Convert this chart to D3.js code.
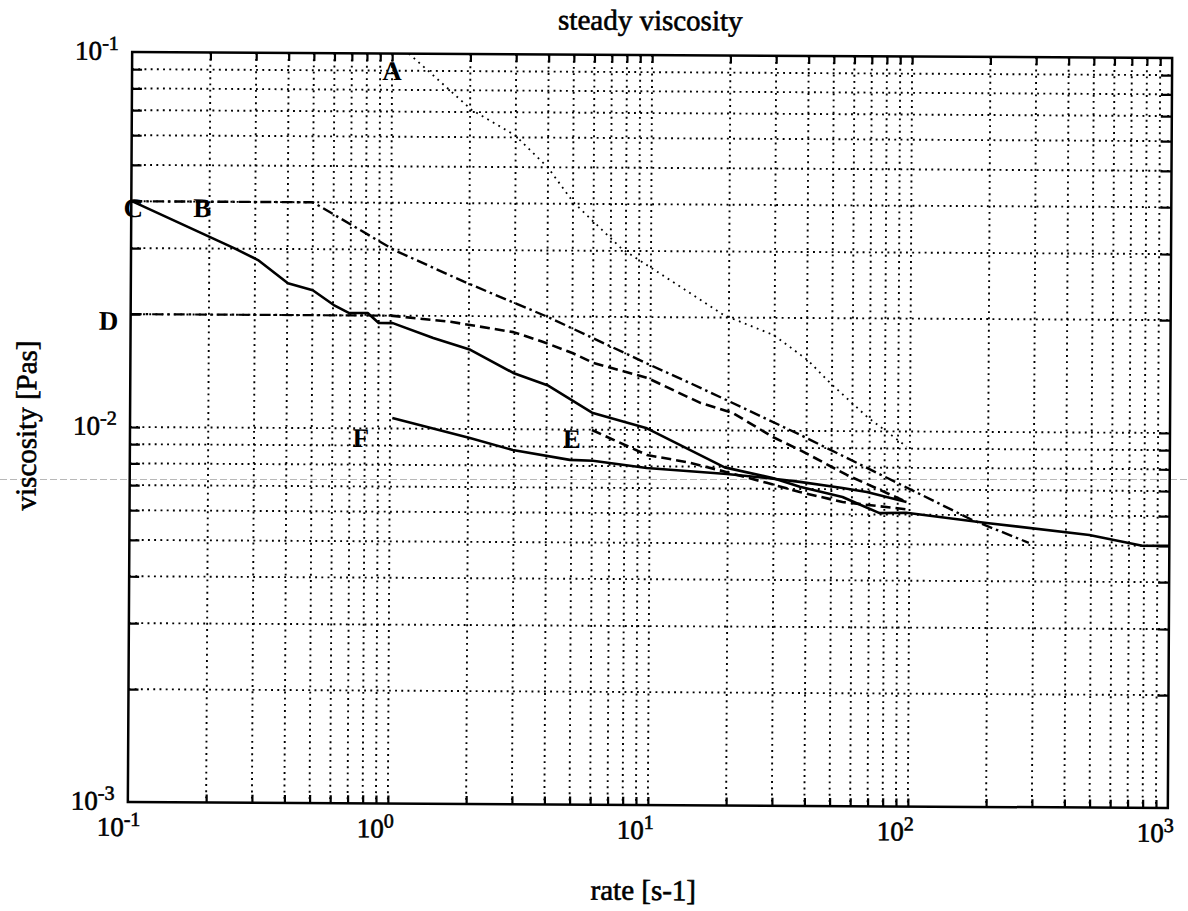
<!DOCTYPE html>
<html><head><meta charset="utf-8">
<script src="https://cdn.jsdelivr.net/npm/d3@7"></script>
<style>
html,body{margin:0;padding:0;background:#fff;}
svg{display:block;}
text{font-family:"Liberation Serif","Times New Roman",serif;fill:#000;}
</style></head><body>
<svg id="chart" width="1188" height="911"></svg>
<script>
// ---- data (rate [1/s], viscosity [Pas]) ----
const rateA = [1.16, 2.03, 2.97, 3.98, 5.01, 7.67, 19.1, 29.7, 40.2, 49.2, 68.4, 97.3];
const viscA = [0.1, 0.0709, 0.0609, 0.0501, 0.0404, 0.0305, 0.0203, 0.0180, 0.01546, 0.01343, 0.01092, 0.0091];

const rateB = [0.1, 0.5, 1.03, 1.91, 4.02, 10, 15.6, 37.8, 81.7, 174.5, 288];
const viscB = [0.04, 0.04, 0.0299, 0.0247, 0.01995, 0.0149, 0.01298, 0.00976, 0.00752, 0.00582, 0.00507];

const rateC = [0.1, 0.249, 0.308, 0.402, 0.501, 0.604, 0.69, 0.816, 0.9, 1.02, 1.46, 2.03, 2.97, 4.02, 5.98, 9.73, 14.3, 19.4, 29.7, 37.8, 55.2, 76.7, 97.3, 198, 492, 787, 1000];
const viscC = [0.0401, 0.0301, 0.028, 0.0243, 0.0233, 0.0213, 0.0203, 0.0203, 0.0191, 0.0191, 0.01745, 0.01626, 0.01413, 0.01312, 0.0111, 0.0101, 0.00885, 0.00797, 0.00748, 0.0071, 0.00667, 0.00605, 0.00607, 0.00572, 0.00533, 0.005, 0.005];

const rateDlow = [0.1, 1.0];
const viscDlow = [0.02, 0.02];
const rateD = [1.0, 1.70, 2.97, 3.87, 5.01, 6.04, 9.73, 15.6, 20.8, 29.7, 37.8, 57.3, 97.3];
const viscD = [0.02, 0.0193, 0.01815, 0.0171, 0.016, 0.01507, 0.01377, 0.01183, 0.01114, 0.00962, 0.00889, 0.00764, 0.00649];

const rateE = [5.98, 9.73, 14.3, 19.8, 28.2, 37.8, 55.2, 97.3];
const viscE = [0.00998, 0.00858, 0.00819, 0.00774, 0.00726, 0.00687, 0.00647, 0.0062];

const rateF = [1.02, 2.03, 2.97, 4.92, 6.04, 9.73, 19.8, 28.2, 37.8, 55.2, 68.4, 97.3];
const viscF = [0.01067, 0.00946, 0.0088, 0.0083, 0.00826, 0.00792, 0.00765, 0.00748, 0.00731, 0.00705, 0.00689, 0.00649];

const curveLabels = ["A", "B", "C", "D", "E", "F"];
const labelRates  = [1.0, 0.1875, 0.1018, 0.0823, 5.01, 0.773];
const labelViscs  = [0.085, 0.0364, 0.0363, 0.01815, 0.00892, 0.00891];

const xTickExps = [-1, 0, 1, 2, 3];
const yTickExps = [-1, -2, -3];

const titleText = "steady viscosity";
const xLabelText = "rate [s-1]";
const yLabelText = "viscosity [Pas]";

// ---- layout ----
const m = {left:130, right:1170, top:55, bottom:805};
const x = d3.scaleLog().domain([0.1, 1000]).range([m.left, m.right]);
const y = d3.scaleLog().domain([0.001, 0.1]).range([m.bottom, m.top]);

const svg = d3.select("#chart");
svg.append("rect").attr("width",1188).attr("height",911).attr("fill","#fff");

// faint scan line of the original print
svg.append("line").attr("x1",0).attr("x2",1188).attr("y1",479.5).attr("y2",479.5)
  .attr("stroke","#b8b8b8").attr("stroke-width",1).attr("stroke-dasharray","7,3");

const g = svg.append("g").attr("transform","rotate(0.33,650,430)");

const xMinor = x.ticks().filter(v => v > 0.1 + 1e-9 && v < 1000 - 1e-6);
const yMinor = y.ticks().filter(v => v > 0.001 + 1e-12 && v < 0.1 - 1e-9);

// grid
const gridStyle = sel => sel.attr("stroke","#000").attr("stroke-width",1.9).attr("stroke-dasharray","1.9,4.3");
g.append("g").selectAll("line").data(xMinor).join("line")
  .attr("x1",d=>x(d)).attr("x2",d=>x(d)).attr("y1",m.top).attr("y2",m.bottom).call(gridStyle);
g.append("g").selectAll("line").data(yMinor).join("line")
  .attr("y1",d=>y(d)).attr("y2",d=>y(d)).attr("x1",m.left).attr("x2",m.right).call(gridStyle);

// inward ticks via axes
const tickStyle = sel => { sel.select(".domain").remove(); sel.selectAll(".tick line").attr("stroke","#000").attr("stroke-width",2.2); };
g.append("g").attr("transform",`translate(0,${m.bottom})`)
  .call(d3.axisBottom(x).tickValues(xMinor).tickSize(-8).tickFormat("")).call(tickStyle);
g.append("g").attr("transform",`translate(0,${m.top})`)
  .call(d3.axisTop(x).tickValues(xMinor).tickSize(-8).tickFormat("")).call(tickStyle);
g.append("g").attr("transform",`translate(${m.left},0)`)
  .call(d3.axisLeft(y).tickValues(yMinor).tickSize(-10).tickFormat("")).call(tickStyle);
g.append("g").attr("transform",`translate(${m.right},0)`)
  .call(d3.axisRight(y).tickValues(yMinor).tickSize(-11).tickFormat("")).call(tickStyle);

// frame
g.append("rect").attr("x",m.left).attr("y",m.top).attr("width",m.right-m.left).attr("height",m.bottom-m.top)
  .attr("fill","none").attr("stroke","#000").attr("stroke-width",2.5);

// curves
const line = d3.line().x(d=>x(d[0])).y(d=>y(d[1]));
function drawCurve(rates, viscs, width, dash){
  const p = g.append("path").datum(d3.zip(rates, viscs)).attr("d", line)
    .attr("fill","none").attr("stroke","#000").attr("stroke-width",width)
    .attr("stroke-linejoin","round");
  if (dash) p.attr("stroke-dasharray", dash);
}
drawCurve(rateA, viscA, 1.8, "1.8,4.6");
drawCurve(rateB, viscB, 2.4, "11,4,2.5,4");
drawCurve(rateC, viscC, 2.6, null);
drawCurve(rateDlow, viscDlow, 2.2, "11,4,2.5,4");
drawCurve(rateD, viscD, 2.6, "10,5");
drawCurve(rateE, viscE, 2.6, "10,5");
drawCurve(rateF, viscF, 2.6, null);

// curve letters
g.append("g").selectAll("text").data(d3.zip(curveLabels, labelRates, labelViscs)).join("text")
  .attr("x",d=>x(d[1])).attr("y",d=>y(d[2])).attr("text-anchor","middle")
  .attr("font-size",27).attr("font-weight","bold").text(d=>d[0]);

// tick labels
function powLabel(sel, e){
  sel.append("tspan").text("10");
  sel.append("tspan").attr("dy",-10).attr("font-size",20).text(String(e));
}
const heavy = sel => sel.attr("stroke","#000").attr("stroke-width",0.6);
xTickExps.forEach(e => {
  const t = g.append("text").attr("x", x(Math.pow(10,e)) - 31).attr("y", m.bottom + 34)
    .attr("font-size",27).call(heavy);
  powLabel(t, e);
});
yTickExps.forEach(e => {
  const t = g.append("text").attr("x", m.left - 57).attr("y", y(Math.pow(10,e)) + 8)
    .attr("font-size",27).call(heavy);
  powLabel(t, e);
});

// titles
g.append("text").attr("x",648).attr("y",30).attr("text-anchor","middle").attr("font-size",29).call(heavy).text(titleText);
g.append("text").attr("x",646).attr("y",900).attr("text-anchor","middle").attr("font-size",29).call(heavy).text(xLabelText);
g.append("text").attr("transform","translate(36,429) rotate(-90)").attr("text-anchor","middle").attr("font-size",29).call(heavy).text(yLabelText);
</script>
</body></html>
